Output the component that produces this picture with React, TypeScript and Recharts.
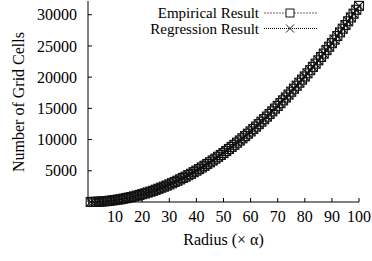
import { LineChart, Line, XAxis, YAxis, Legend } from "recharts"

const radius = [
  1, 2, 3, 4, 5, 6, 7, 8, 9, 10, 11, 12, 13, 14, 15, 16, 17, 18, 19, 20,
  21, 22, 23, 24, 25, 26, 27, 28, 29, 30, 31, 32, 33, 34, 35, 36, 37, 38, 39, 40,
  41, 42, 43, 44, 45, 46, 47, 48, 49, 50, 51, 52, 53, 54, 55, 56, 57, 58, 59, 60,
  61, 62, 63, 64, 65, 66, 67, 68, 69, 70, 71, 72, 73, 74, 75, 76, 77, 78, 79, 80,
  81, 82, 83, 84, 85, 86, 87, 88, 89, 90, 91, 92, 93, 94, 95, 96, 97, 98, 99, 100,
]

const empirical = [
  5, 13, 29, 49, 81, 113, 149, 197, 253, 317,
  377, 441, 529, 613, 709, 797, 901, 1009, 1129, 1257,
  1373, 1517, 1653, 1793, 1961, 2121, 2289, 2453, 2629, 2821,
  3001, 3209, 3409, 3625, 3853, 4053, 4293, 4513, 4777, 5025,
  5273, 5537, 5805, 6085, 6361, 6645, 6941, 7241, 7537, 7845,
  8169, 8497, 8821, 9157, 9505, 9849, 10209, 10565, 10937, 11305,
  11693, 12073, 12473, 12865, 13273, 13681, 14101, 14525, 14961, 15393,
  15841, 16285, 16741, 17205, 17669, 18149, 18625, 19113, 19605, 20109,
  20613, 21121, 21645, 22165, 22697, 23233, 23781, 24329, 24881, 25445,
  26013, 26593, 27173, 27757, 28349, 28953, 29557, 30169, 30793, 31417,
]

const regression = [
  3, 13, 28, 50, 79, 113, 154, 201, 254, 314,
  380, 452, 531, 616, 707, 804, 908, 1018, 1134, 1257,
  1385, 1521, 1662, 1810, 1963, 2124, 2290, 2463, 2642, 2827,
  3019, 3217, 3421, 3632, 3848, 4072, 4301, 4536, 4778, 5027,
  5281, 5542, 5809, 6082, 6362, 6648, 6940, 7238, 7543, 7854,
  8171, 8495, 8825, 9161, 9503, 9852, 10207, 10568, 10936, 11310,
  11690, 12076, 12469, 12868, 13273, 13685, 14103, 14527, 14957, 15394,
  15837, 16286, 16742, 17203, 17671, 18146, 18626, 19113, 19607, 20106,
  20612, 21124, 21642, 22167, 22698, 23235, 23779, 24328, 24885, 25447,
  26016, 26590, 27172, 27759, 28353, 28953, 29559, 30172, 30791, 31416,
]

const xTicks = [10, 20, 30, 40, 50, 60, 70, 80, 90, 100]
const yTicks = [5000, 10000, 15000, 20000, 25000, 30000]

const data = radius.map((r, i) => ({
  r,
  empirical: empirical[i],
  regression: regression[i],
}))

const font = "'Liberation Serif', 'Times New Roman', serif"

const SquareDot = (props: any) => {
  const { cx, cy } = props
  if (cx == null || cy == null) return <g />
  return (
    <rect x={cx - 4.5} y={cy - 4.5} width={9} height={9} fill="none" stroke="#111" strokeWidth={1.1} />
  )
}

const CrossDot = (props: any) => {
  const { cx, cy } = props
  if (cx == null || cy == null) return <g />
  return (
    <g stroke="#111" strokeWidth={1.1}>
      <line x1={cx - 4.5} y1={cy - 4.5} x2={cx + 4.5} y2={cy + 4.5} />
      <line x1={cx - 4.5} y1={cy + 4.5} x2={cx + 4.5} y2={cy - 4.5} />
    </g>
  )
}

const renderLegend = () => (
  <svg width={372} height={40} style={{ display: "block" }}>
    <g fontFamily={font} fontSize={15} fill="#000">
      <text x={259} y={12.5} textAnchor="end" dominantBaseline="central">
        Empirical Result
      </text>
      <text x={259} y={29} textAnchor="end" dominantBaseline="central">
        Regression Result
      </text>
    </g>
    <line x1={264} y1={13} x2={317} y2={13} stroke="#666" strokeDasharray="2 1" />
    <rect x={286} y={9} width={8} height={8} fill="#fff" stroke="#000" strokeWidth={0.9} />
    <line x1={264} y1={28.5} x2={317} y2={28.5} stroke="#000" strokeDasharray="1 1" />
    <g stroke="#000" strokeWidth={0.9}>
      <line x1={286} y1={24.5} x2={294} y2={32.5} />
      <line x1={286} y1={32.5} x2={294} y2={24.5} />
    </g>
  </svg>
)

export default function App() {
  const tickStyle = { fontFamily: font, fontSize: 16, fill: "#000" }
  return (
    <div style={{ position: "absolute", left: 0, top: 0, width: 372, height: 261, background: "#fff" }}>
      <LineChart
        width={372}
        height={261}
        data={data}
        margin={{ top: 1, right: 13, bottom: 0, left: 0 }}
      >
        <XAxis
          dataKey="r"
          type="number"
          domain={[0, 100]}
          ticks={xTicks}
          height={59}
          tickSize={-4}
          tickMargin={13}
          stroke="#000"
          tick={tickStyle}
          label={{
            content: (p: any) => {
              const vb = p.viewBox || { x: 88, width: 271 }
              return (
                <text
                  x={vb.x + vb.width / 2}
                  y={245}
                  textAnchor="middle"
                  fontFamily={font}
                  fontSize={16}
                  fill="#000"
                >
                  Radius (× α)
                </text>
              )
            },
          }}
        />
        <XAxis
          xAxisId="t"
          dataKey="r"
          type="number"
          orientation="top"
          domain={[0, 100]}
          ticks={xTicks}
          height={0}
          tickSize={-4}
          stroke="#000"
          tick={false}
        />
        <YAxis
          type="number"
          domain={[0, 32200]}
          ticks={yTicks}
          width={88}
          tickSize={-4}
          tickMargin={15}
          stroke="#000"
          tick={tickStyle}
          label={{
            content: () => (
              <text
                x={18}
                y={102}
                transform="rotate(-90 18 102)"
                textAnchor="middle"
                dominantBaseline="central"
                fontFamily={font}
                fontSize={16}
                fill="#000"
              >
                Number of Grid Cells
              </text>
            ),
          }}
        />
        <YAxis
          yAxisId="r"
          orientation="right"
          type="number"
          domain={[0, 32200]}
          ticks={yTicks}
          width={0}
          tickSize={-4}
          stroke="#000"
          tick={false}
        />
        <Legend
          layout="vertical"
          align="center"
          verticalAlign="middle"
          content={renderLegend}
          wrapperStyle={{ position: "absolute", top: 0, left: 0, width: 372, height: 40 }}
        />
        <Line
          dataKey="empirical"
          stroke="#333"
          strokeWidth={1}
          strokeDasharray="2 1"
          dot={<SquareDot />}
          isAnimationActive={false}
        />
        <Line
          dataKey="regression"
          stroke="#000"
          strokeWidth={1}
          strokeDasharray="1 1"
          dot={<CrossDot />}
          isAnimationActive={false}
        />
      </LineChart>
    </div>
  )
}
